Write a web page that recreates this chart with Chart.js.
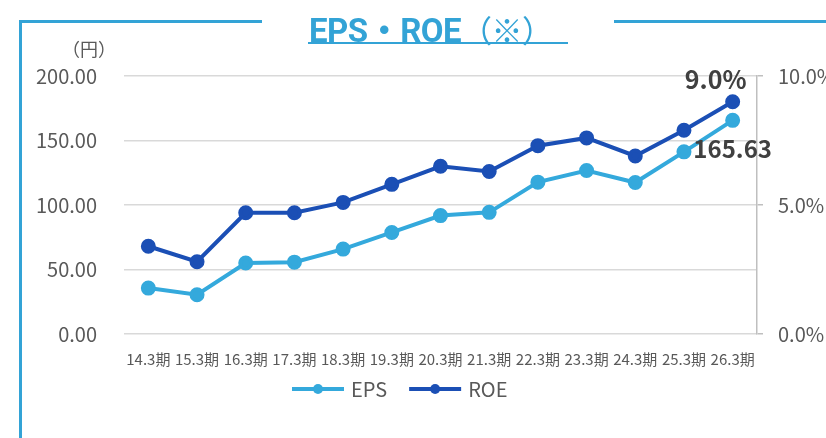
<!DOCTYPE html>
<html lang="ja">
<head>
<meta charset="utf-8">
<title>EPS・ROE</title>
<script src="https://cdn.jsdelivr.net/npm/chart.js@4"></script>
<style>
  html, body { margin: 0; padding: 0; background: #fff; }
  #wrap { position: relative; width: 826px; height: 438px; overflow: hidden; font-family: "Noto Sans CJK JP", "Noto Sans", sans-serif; }
  #chart { position: absolute; left: 0; top: 0; }
  .frame { position: absolute; background: #33a3d6; }
  #title { position: absolute; left: 309px; width: 260px; top: 4px; text-align: left; color: #33a3d6; font-size: 33px; font-weight: bold; font-family: Roboto, "Noto Sans CJK JP", sans-serif; letter-spacing: -0.5px; white-space: nowrap; }
  #title .note { font-weight: normal; font-family: "Noto Sans CJK JP", sans-serif; font-size: 31px; }
  #uline { position: absolute; left: 308px; width: 260px; top: 42px; height: 2px; background: #33a3d6; }
  #unit { position: absolute; left: 62px; top: 35px; color: #595959; font-size: 18px; }
</style>
</head>
<body>
<div id="wrap">
  <canvas id="chart" width="826" height="438"></canvas>
  <div class="frame" style="left:19px; top:20px; width:3px; height:418px;"></div>
  <div class="frame" style="left:19px; top:20px; width:243px; height:3px;"></div>
  <div class="frame" style="left:614px; top:20px; width:212px; height:3px;"></div>
  <div id="title">EPS・ROE<span class="note">（※）</span></div>
  <div id="uline"></div>
  <div id="unit">（円）</div>
</div>
<script>
// data
const periods = ['14.3期', '15.3期', '16.3期', '17.3期', '18.3期', '19.3期', '20.3期', '21.3期', '22.3期', '23.3期', '24.3期', '25.3期', '26.3期'];
const epsValues = [35.6, 30.4, 55.0, 55.7, 65.8, 78.7, 91.8, 94.3, 117.7, 126.7, 117.4, 141.2, 165.63];
const roeValues = [3.4, 2.8, 4.7, 4.7, 5.1, 5.8, 6.5, 6.3, 7.3, 7.6, 6.9, 7.9, 9.0];
const epsTicks = [0, 50, 100, 150, 200];
const roeTicks = [0, 5, 10];

const EPS_COLOR = '#34a9dc';
const ROE_COLOR = '#1b4fb5';
const TEXT_COLOR = '#595959';
const FONT = '"Noto Sans CJK JP", "Noto Sans", sans-serif';

// labels on the last point of each series
const lastLabels = {
  id: 'lastLabels',
  afterDatasetsDraw(chart) {
    const ctx = chart.ctx;
    ctx.save();
    ctx.fillStyle = '#404040';
    ctx.textAlign = 'center';
    ctx.textBaseline = 'middle';
    const epsMeta = chart.getDatasetMeta(0);
    const roeMeta = chart.getDatasetMeta(1);
    const ep = epsMeta.data[epsMeta.data.length - 1];
    const rp = roeMeta.data[roeMeta.data.length - 1];
    ctx.font = 'bold 25px ' + FONT;
    ctx.fillText(roeValues[roeValues.length - 1].toFixed(1) + '%', rp.x - 17, rp.y - 22);
    ctx.font = 'bold 24px ' + FONT;
    ctx.fillText(epsValues[epsValues.length - 1].toFixed(2), ep.x, ep.y + 29);
    ctx.restore();
  }
};

// legend with line + marker, placed below the axis
const lineLegend = {
  id: 'lineLegend',
  afterDraw(chart) {
    const ctx = chart.ctx;
    const y = 389;
    let x = 292;
    ctx.save();
    ctx.font = '20px ' + FONT;
    ctx.textBaseline = 'middle';
    chart.data.datasets.forEach(ds => {
      ctx.strokeStyle = ds.borderColor;
      ctx.lineWidth = 4;
      ctx.beginPath();
      ctx.moveTo(x, y);
      ctx.lineTo(x + 52, y);
      ctx.stroke();
      ctx.fillStyle = ds.borderColor;
      ctx.beginPath();
      ctx.arc(x + 26, y, 5, 0, Math.PI * 2);
      ctx.fill();
      ctx.fillStyle = TEXT_COLOR;
      ctx.fillText(ds.label, x + 59, y);
      x += 59 + ctx.measureText(ds.label).width + 22;
    });
    ctx.restore();
  }
};

new Chart(document.getElementById('chart'), {
  type: 'line',
  data: {
    labels: periods,
    datasets: [{
      label: 'EPS',
      data: epsValues,
      yAxisID: 'y',
      borderColor: EPS_COLOR,
      backgroundColor: EPS_COLOR,
      borderWidth: 4,
      pointRadius: 5.5,
      pointHoverRadius: 5.5,
      tension: 0
    }, {
      label: 'ROE',
      data: roeValues,
      yAxisID: 'y1',
      borderColor: ROE_COLOR,
      backgroundColor: ROE_COLOR,
      borderWidth: 4,
      pointRadius: 5.5,
      pointHoverRadius: 5.5,
      tension: 0
    }]
  },
  options: {
    responsive: false,
    animation: false,
    layout: { padding: { top: 76, bottom: 0, left: 0, right: 0 } },
    plugins: {
      legend: { display: false },
      tooltip: { enabled: false }
    },
    scales: {
      x: {
        offset: true,
        grid: { display: false },
        border: { display: false },
        ticks: {
          autoSkip: false,
          maxRotation: 0,
          minRotation: 0,
          padding: 8,
          color: TEXT_COLOR,
          font: { family: FONT, size: 15 }
        },
        afterFit: s => { s.height = 104; }
      },
      y: {
        position: 'left',
        min: 0,
        max: 200,
        afterBuildTicks: s => { s.ticks = epsTicks.map(v => ({ value: v })); },
        grid: { color: '#d9d9d9', lineWidth: 1.5, drawTicks: false },
        border: { display: false },
        ticks: {
          padding: 27,
          color: TEXT_COLOR,
          font: { family: FONT, size: 20 },
          callback: v => Number(v).toFixed(2)
        },
        afterFit: s => { s.width = 124; }
      },
      y1: {
        position: 'right',
        min: 0,
        max: 10,
        afterBuildTicks: s => { s.ticks = roeTicks.map(v => ({ value: v })); },
        grid: { drawOnChartArea: false, color: '#bfbfbf', lineWidth: 1.5, tickLength: 6 },
        border: { display: true, color: '#bfbfbf', width: 1.5 },
        ticks: {
          padding: 15,
          color: TEXT_COLOR,
          font: { family: FONT, size: 20 },
          callback: v => Number(v).toFixed(1) + '%'
        },
        afterFit: s => { s.width = 69; }
      }
    }
  },
  plugins: [lastLabels, lineLegend]
});
</script>
</body>
</html>
